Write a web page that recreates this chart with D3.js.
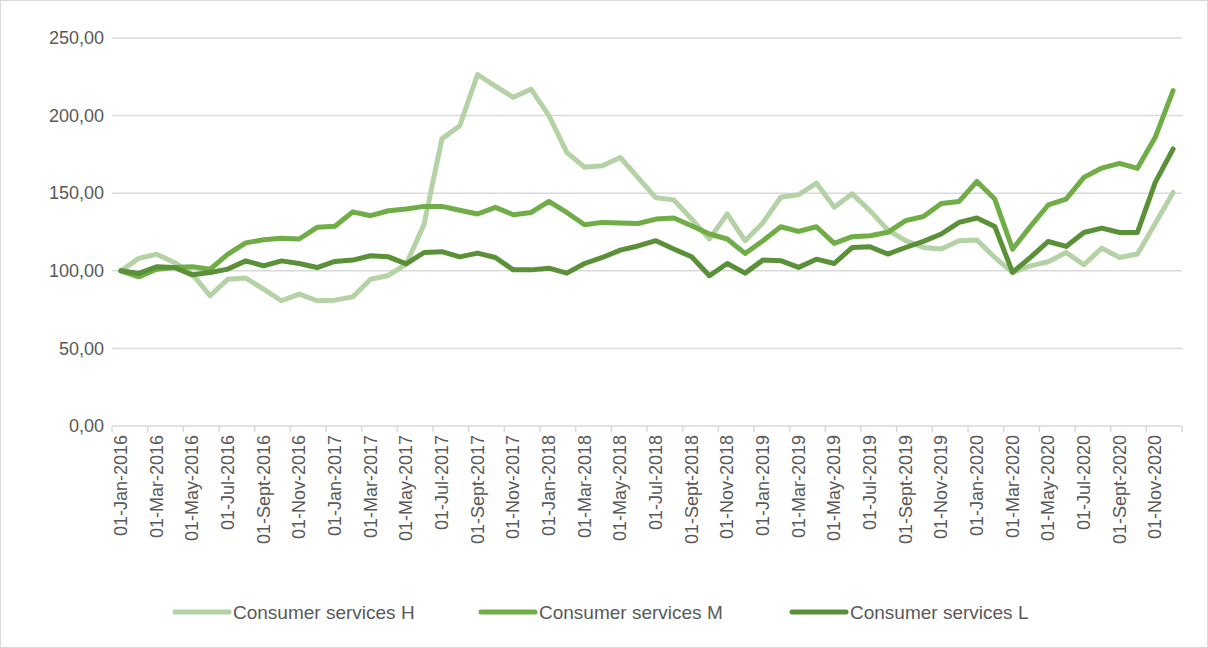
<!DOCTYPE html>
<html>
<head>
<meta charset="utf-8">
<script src="https://cdn.jsdelivr.net/npm/d3@7"></script>
<style>
  body { margin: 0; background: #fff; }
  svg { display: block; font-family: "Liberation Sans", Arial, sans-serif; }
  .grid line { stroke: #d9d9d9; stroke-width: 1.5; }
  .axis text { fill: #595959; font-size: 18px; }
  .legend text { fill: #595959; font-size: 19px; }
</style>
</head>
<body>
<svg width="1208" height="648"></svg>
<script>
const monthNames = ["Jan", "Feb", "Mar", "Apr", "May", "Jun", "Jul", "Aug", "Sept", "Oct", "Nov", "Dec"];
const years = [2016, 2017, 2018, 2019, 2020];
const categories = [];
years.forEach(y => monthNames.forEach(m => categories.push(`01-${m}-${y}`)));

const yTicks = [0, 50, 100, 150, 200, 250];

const seriesNames = ["Consumer services H", "Consumer services M", "Consumer services L"];
const colors = ["#b4d2a6", "#70ad47", "#5a9038"];

const valuesH = [
  100, 108, 110.7, 105.4, 97.9, 83.9, 94.6, 95.3, 88.2, 80.7, 85, 80.7,
  81.1, 83.2, 94.6, 97, 104.3, 130, 185, 193.5, 226.5, 219, 211.8, 217,
  200, 176.3, 166.7, 167.7, 173, 160, 147, 145.7, 133.4, 120.5, 136.6, 119.4,
  131, 147.4, 149, 156.5, 141, 149.6, 138.8, 126.3, 119.4, 115, 114, 119.4,
  119.8, 108.6, 99, 103.2, 105.8, 111.8, 103.9, 114.6, 108.6, 110.8, 130.5, 150.5
];
const valuesM = [
  100, 96.1, 101, 102.1, 102.6, 101, 110.7, 118, 120, 121, 120.5, 128,
  128.7, 138, 135.5, 138.7, 139.8, 141.5, 141.5, 139, 136.6, 140.9, 136.1, 137.6,
  144.7, 137.6, 129.7, 131.2, 130.8, 130.5, 133.3, 134, 129, 123.7, 120.5, 111.2,
  119.4, 128.4, 125.4, 128.4, 117.7, 122, 122.6, 124.8, 132.3, 135, 143.4, 144.7,
  157.6, 146.2, 114, 128.6, 142.4, 146.2, 160.2, 166.2, 169.2, 166, 186, 216.1
];
const valuesL = [
  100, 98.3, 102.6, 102.1, 97.4, 98.9, 101.1, 106.4, 103.2, 106.4, 104.7, 102.1,
  106, 106.9, 109.7, 109, 104.5, 111.8, 112.3, 109, 111.4, 108.6, 100.6, 100.6,
  101.7, 98.5, 104.7, 108.6, 113.3, 116, 119.4, 114, 109, 96.8, 104.7, 98.5,
  106.9, 106.5, 102.2, 107.5, 104.7, 115, 115.5, 110.8, 115, 119, 123.7, 131.2,
  134, 128.6, 99, 108.6, 118.9, 115.7, 124.7, 127.5, 124.7, 124.7, 157, 178.5
];
const allValues = [valuesH, valuesM, valuesL];

const svg = d3.select("svg");

// outer chart border
svg.append("rect")
  .attr("x", 0.5).attr("y", 0.5)
  .attr("width", 1207).attr("height", 647)
  .attr("fill", "none")
  .attr("stroke", "#d9d9d9");

const x = d3.scaleBand().domain(categories).range([112, 1182]).paddingInner(0).paddingOuter(0);
const y = d3.scaleLinear().domain([0, 250]).range([426, 38]);
const cx = c => x(c) + x.bandwidth() / 2;

// gridlines
svg.append("g")
  .attr("class", "grid")
  .selectAll("line")
  .data(yTicks.filter(d => d > 0))
  .join("line")
  .attr("x1", 112).attr("x2", 1182)
  .attr("y1", d => y(d)).attr("y2", d => y(d));

// y axis labels
const fmt = d => d3.format(".2f")(d).replace(".", ",");
const yAxis = svg.append("g")
  .attr("class", "axis")
  .attr("transform", "translate(112,0)")
  .call(d3.axisLeft(y).tickValues(yTicks).tickFormat(fmt).tickSize(0).tickPadding(8));
yAxis.select(".domain").remove();

// x axis line + ticks between every second category
const xg = svg.append("g").attr("class", "axis");
xg.append("line")
  .attr("x1", 112).attr("x2", 1182)
  .attr("y1", y(0)).attr("y2", y(0))
  .attr("stroke", "#d9d9d9").attr("stroke-width", 1.5);
const tickPos = categories.filter((c, i) => i % 2 === 0).map(c => x(c)).concat([x.range()[1]]);
xg.selectAll(".tk")
  .data(tickPos)
  .join("line")
  .attr("class", "tk")
  .attr("x1", d => d).attr("x2", d => d)
  .attr("y1", y(0)).attr("y2", y(0) + 6)
  .attr("stroke", "#d9d9d9").attr("stroke-width", 1.5);
xg.selectAll(".lbl")
  .data(categories.filter((c, i) => i % 2 === 0))
  .join("text")
  .attr("class", "lbl")
  .attr("text-anchor", "end")
  .attr("dominant-baseline", "central")
  .attr("transform", d => `translate(${cx(d)},${y(0) + 9}) rotate(-90)`)
  .text(d => d);

// lines
const line = d3.line()
  .x((d, i) => cx(categories[i]))
  .y(d => y(d));

svg.append("g")
  .selectAll("path")
  .data(allValues)
  .join("path")
  .attr("d", line)
  .attr("fill", "none")
  .attr("stroke", (d, i) => colors[i])
  .attr("stroke-width", 5)
  .attr("stroke-linejoin", "round")
  .attr("stroke-linecap", "round");

// legend
const legendX = [175, 481, 792];
const legend = svg.append("g").attr("class", "legend");
seriesNames.forEach((name, i) => {
  const gItem = legend.append("g").attr("transform", `translate(${legendX[i]},612)`);
  gItem.append("line")
    .attr("x1", 0).attr("x2", 54)
    .attr("stroke", colors[i]).attr("stroke-width", 5)
    .attr("stroke-linecap", "round");
  gItem.append("text")
    .attr("x", 58)
    .attr("dominant-baseline", "central")
    .text(name);
});
</script>
</body>
</html>
